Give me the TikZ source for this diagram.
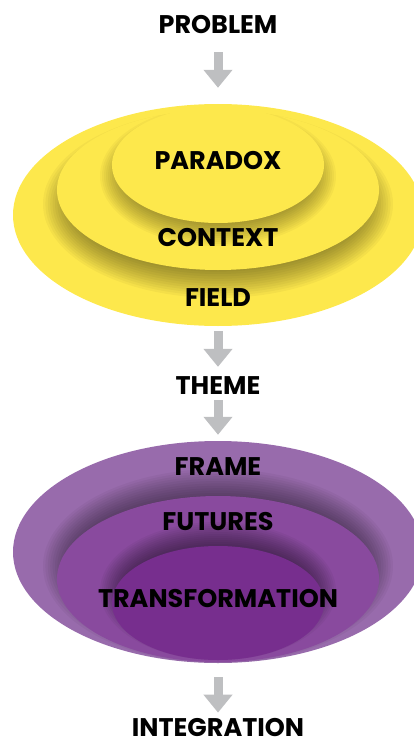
\documentclass[tikz,border=0pt]{standalone}
\usepackage{fontspec}
\setmainfont{Poppins}
\usetikzlibrary{arrows.meta,shapes.geometric}
\definecolor{fdyellow}{RGB}{253,232,76}
\definecolor{fdpurpleA}{RGB}{152,107,172}
\definecolor{fdpurpleB}{RGB}{137,74,158}
\definecolor{fdpurpleC}{RGB}{119,46,142}
\definecolor{fdgray}{RGB}{190,191,193}

\begin{document}
\begin{tikzpicture}[
    x=1pt, y=-1pt,
    ring/.style={
        ellipse,
        draw=none,
        inner sep=0pt
    },
    label/.style={
        inner sep=0pt,
        font=\bfseries\fontsize{25.5}{28}\selectfont,
        text=black
    },
    arrow/.style={
        -{Triangle[length=18pt, width=28pt]},
        line width=9pt,
        draw=fdgray
    }
]
\useasboundingbox (0,0) rectangle (414,741);

% Yellow rings: field, context, paradox. Each inner ring drops a soft
% shadow downwards onto the ring behind it.
\node[ring, fill=fdyellow, minimum width=410pt, minimum height=222pt]
    (fieldring) at (218,215) {};
\begin{scope}
    \clip (218,215) ellipse [x radius=205, y radius=111];
    \foreach \k in {0,...,11}
        \fill[black, opacity=0.035] (218,204)
            ellipse [x radius={175-2.4*\k}, y radius={94-2.4*\k}];
\end{scope}
\node[ring, fill=fdyellow, minimum width=322pt, minimum height=160pt]
    (contextring) at (218,190) {};
\begin{scope}
    \clip (218,190) ellipse [x radius=161, y radius=80];
    \foreach \k in {0,...,11}
        \fill[black, opacity=0.03] (218,176)
            ellipse [x radius={118-2*\k}, y radius={70-2*\k}];
\end{scope}
\node[ring, fill=fdyellow, minimum width=212pt, minimum height=116pt]
    (paradoxring) at (218,165) {};

% Purple rings: frame, futures, transformation. Here the shadows fall
% upwards, above each inner ring.
\node[ring, fill=fdpurpleA, minimum width=410pt, minimum height=222pt]
    (framering) at (218,552) {};
\begin{scope}
    \clip (218,552) ellipse [x radius=205, y radius=111];
    \foreach \k in {0,...,11}
        \fill[black, opacity=0.04] (218,566)
            ellipse [x radius={175-2.4*\k}, y radius={97-2.4*\k}];
\end{scope}
\node[ring, fill=fdpurpleB, minimum width=322pt, minimum height=166pt]
    (futuresring) at (218,579) {};
\begin{scope}
    \clip (218,579) ellipse [x radius=161, y radius=83];
    \foreach \k in {0,...,11}
        \fill[black, opacity=0.04] (218,591)
            ellipse [x radius={118-2*\k}, y radius={69-2*\k}];
\end{scope}
\node[ring, fill=fdpurpleC, minimum width=212pt, minimum height=114pt]
    (transring) at (218,603) {};

% Labels
\node[label] (problem)     at (218,25)    {PROBLEM};
\node[label] (paradox)     at (218,161)   {PARADOX};
\node[label] (context)     at (218,237.5) {CONTEXT};
\node[label] (field)       at (218,298)   {FIELD};
\node[label] (theme)       at (218,385.5) {THEME};
\node[label] (frame)       at (218,467)   {FRAME};
\node[label] (futures)     at (218,522)   {FUTURES};
\node[label] (transform)   at (218,599)   {TRANSFORMATION};
\node[label] (integration) at (218,728)   {INTEGRATION};

% Flow arrows
\draw[arrow, shorten <=18pt, shorten >=16pt] (problem) -- (fieldring);
\draw[arrow, shorten <=5pt, shorten >=9.5pt] (fieldring) -- (theme);
\draw[arrow, shorten <=5.5pt, shorten >=6pt] (theme) -- (framering);
\draw[arrow, shorten <=14pt, shorten >=6pt] (framering) -- (integration);

\end{tikzpicture}
\end{document}
